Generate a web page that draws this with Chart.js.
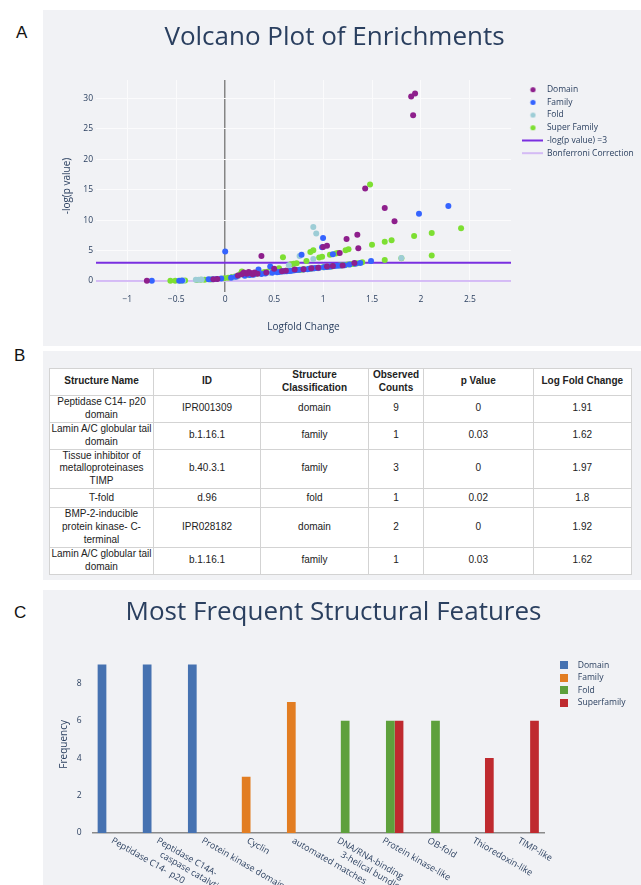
<!DOCTYPE html>
<html><head><meta charset="utf-8">
<script src="https://cdn.jsdelivr.net/npm/chart.js@4.4.1/dist/chart.umd.min.js"></script>
<style>
html,body{margin:0;padding:0;background:#fff;width:641px;height:885px;overflow:hidden;font-family:"Open Sans",sans-serif;}
.panel{position:absolute;left:43px;width:598px;background:#f1f2f5;}
#pA{top:10px;height:336px;}
#pB{top:351px;height:229px;}
#pC{top:590px;height:295px;}
.letter{position:absolute;font-family:"Liberation Sans",Arial,sans-serif;font-size:17px;line-height:17px;color:#111;}
canvas{display:block;}
table{position:absolute;left:6px;top:17px;border-collapse:collapse;background:#fff;font-family:"Liberation Sans",Arial,sans-serif;font-size:10px;color:#222;table-layout:fixed;}
td,th{border:1px solid #d3d3d3;text-align:center;vertical-align:middle;padding:0 1px;line-height:12.8px;overflow:hidden;}
th{font-weight:bold;}
</style></head>
<body>
<div class="letter" style="left:16px;top:24px;">A</div>
<div class="letter" style="left:14px;top:347px;">B</div>
<div class="letter" style="left:14px;top:604px;">C</div>
<div class="panel" id="pA"><canvas id="cA" width="598" height="336"></canvas></div>
<div class="panel" id="pB"><table id="tbl"></table></div>
<div class="panel" id="pC"><canvas id="cC" width="598" height="295"></canvas></div>
<script>
// ---------------- DATA ----------------
const volcanoTitle = 'Volcano Plot of Enrichments';
const volcanoXTitle = 'Logfold Change';
const volcanoYTitle = '-log(p value)';
const domainPts = [[-0.80,0.05],[-0.12,0.3],[-0.08,0.35],[0.13,0.9],[0.17,1.1],[0.19,1.4],[0.22,1.2],[0.24,1.5],[0.26,1.3],[0.28,1.1],[0.30,1.4],[0.33,1.2],[0.37,4.1],[0.42,1.4],[0.50,2.0],[0.58,1.6],[0.62,1.7],[0.71,1.9],[0.80,1.95],[0.88,2.1],[0.95,2.2],[1.00,5.6],[1.04,5.8],[1.04,2.4],[1.10,2.45],[1.17,4.6],[1.20,2.55],[1.24,6.9],[1.32,2.95],[1.35,7.6],[1.36,5.4],[1.43,15.2],[1.63,12.0],[1.73,9.8],[1.90,30.3],[1.92,27.2],[1.94,30.8]];
const familyPts = [[-0.75,0.05],[-0.47,0.05],[-0.44,0.1],[-0.17,0.3],[-0.13,0.3],[-0.09,0.35],[-0.04,0.4],[0.00,4.85],[0.06,0.55],[0.11,0.7],[0.20,0.85],[0.25,1.0],[0.29,1.05],[0.34,1.9],[0.37,1.15],[0.41,1.25],[0.46,2.4],[0.48,1.35],[0.53,1.45],[0.55,1.5],[0.58,1.55],[0.60,1.6],[0.63,1.6],[0.66,1.65],[0.68,1.7],[0.71,1.75],[0.73,1.8],[0.76,1.85],[0.78,4.3],[0.80,1.9],[0.84,1.95],[0.86,2.0],[0.89,2.05],[0.91,2.1],[0.93,2.15],[0.96,2.2],[0.99,5.55],[1.00,7.05],[1.01,2.25],[1.03,2.3],[1.06,2.35],[1.08,2.4],[1.10,4.4],[1.12,2.45],[1.15,2.5],[1.18,2.55],[1.22,2.6],[1.27,2.7],[1.33,2.85],[1.38,2.95],[1.49,3.3],[1.98,11.05],[2.28,12.3]];
const foldPts = [[-0.43,0.05],[-0.30,0.2],[-0.27,0.2],[-0.24,0.25],[0.08,0.6],[0.13,0.75],[0.27,1.0],[0.45,1.35],[0.61,1.55],[0.65,2.6],[0.70,1.75],[0.76,4.1],[0.90,8.85],[0.93,7.8],[0.90,3.6],[0.95,2.1],[1.80,3.8]];
const superFamilyPts = [[-0.56,0.05],[-0.51,0.05],[-0.45,0.05],[-0.41,0.1],[-0.29,0.15],[-0.25,0.2],[-0.21,0.2],[-0.15,0.25],[-0.01,0.45],[0.03,0.55],[0.07,0.65],[0.10,0.75],[0.14,0.95],[0.16,1.25],[0.17,1.55],[0.19,1.15],[0.21,0.95],[0.24,1.05],[0.32,1.2],[0.36,1.3],[0.40,1.5],[0.44,1.55],[0.46,1.45],[0.50,1.6],[0.53,1.85],[0.55,2.1],[0.57,1.6],[0.59,3.9],[0.60,1.65],[0.62,1.7],[0.65,1.7],[0.67,2.75],[0.70,2.85],[0.70,1.75],[0.73,2.9],[0.75,1.8],[0.77,1.85],[0.79,1.9],[0.81,1.95],[0.83,3.3],[0.86,2.0],[0.87,4.75],[0.88,2.05],[0.90,5.05],[0.91,2.1],[0.94,2.15],[0.96,3.85],[0.99,4.0],[1.00,2.25],[1.02,2.3],[1.05,2.35],[1.07,4.3],[1.09,2.4],[1.11,2.45],[1.13,4.5],[1.15,4.6],[1.17,2.55],[1.19,2.6],[1.22,2.65],[1.23,5.05],[1.25,2.7],[1.26,5.2],[1.28,2.75],[1.31,2.8],[1.35,2.9],[1.40,3.1],[1.48,15.85],[1.50,5.95],[1.63,3.45],[1.63,6.45],[1.70,6.7],[1.80,3.75],[1.93,7.4],[2.11,7.9],[2.11,4.2],[2.41,8.65]];
const thresholdY = 3;
const bonferroniY = 0;
const volcanoXRange = [-1.32, 2.92];
const volcanoYRange = [-1.8, 33];

const barTitle = 'Most Frequent Structural Features';
const barYTitle = 'Frequency';
const barCategories = ['Peptidase C14-  p20', ['Peptidase C14A-','caspase catalytic'], 'Protein kinase domain', 'Cyclin', 'automated matches', ['DNA/RNA-binding','3-helical bundle'], 'Protein kinase-like', 'OB-fold', 'Thioredoxin-like', 'TIMP-like'];
const domainFreq      = [9, 9, 9, null, null, null, null, null, null, null];
const familyFreq      = [null, null, null, 3, 7, null, null, null, null, null];
const foldFreq        = [null, null, null, null, null, 6, 6, 6, null, null];
const superfamilyFreq = [null, null, null, null, null, null, 6, null, 4, 6];

const tableHeaders = [['Structure Name'], ['ID'], ['Structure','Classification'], ['Observed','Counts'], ['p Value'], ['Log Fold Change']];
const structureNames = [['Peptidase C14- p20','domain'], ['Lamin A/C globular tail','domain'], ['Tissue inhibitor of','metalloproteinases','TIMP'], ['T-fold'], ['BMP-2-inducible','protein kinase- C-','terminal'], ['Lamin A/C globular tail','domain']];
const structureIds = ['IPR001309','b.1.16.1','b.40.3.1','d.96','IPR028182','b.1.16.1'];
const classifications = ['domain','family','family','fold','domain','family'];
const observedCounts = [9, 1, 3, 1, 2, 1];
const pValues = [0, 0.03, 0, 0.02, 0, 0.03];
const logFoldChanges = [1.91, 1.62, 1.97, 1.8, 1.92, 1.62];

// ---------------- TABLE ----------------
(function(){
  const colW = [104, 107, 108, 55, 109.5, 98.6];
  const rowH = [27.4, 25.6, 39.4, 19.3, 38.3, 27.4];
  const tbl = document.getElementById('tbl');
  let html = '<colgroup>' + colW.map(w => '<col style="width:' + w + 'px">').join('') + '</colgroup>';
  html += '<tr style="height:26px">' + tableHeaders.map(h => '<th>' + h.join('<br>') + '</th>').join('') + '</tr>';
  structureNames.forEach((n, i) => {
    html += '<tr style="height:' + rowH[i] + 'px"><td>' + n.join('<br>') + '</td><td>' + structureIds[i] + '</td><td>' + classifications[i] +
      '</td><td>' + observedCounts[i] + '</td><td>' + pValues[i] + '</td><td>' + logFoldChanges[i] + '</td></tr>';
  });
  tbl.innerHTML = html;
})();

// ---------------- HELPERS ----------------
const FONT = '"Open Sans", sans-serif';
const TXT = '#2a3f5f';
function dotIcon(color, r){const s=Math.ceil(2*r)+1;const c=document.createElement('canvas');c.width=s;c.height=s;const g=c.getContext('2d');g.fillStyle=color;g.beginPath();g.arc(s/2,s/2,r,0,Math.PI*2);g.fill();return c;}
function lineIcon(color, len, lw){const c=document.createElement('canvas');c.width=len;c.height=4;const g=c.getContext('2d');g.strokeStyle=color;g.lineWidth=lw;g.beginPath();g.moveTo(0,2);g.lineTo(len,2);g.stroke();return c;}
function squareIcon(color, s){const c=document.createElement('canvas');c.width=s;c.height=s;const g=c.getContext('2d');g.fillStyle=color;g.fillRect(0,0,s,s);return c;}
function iconLabels(icons){
  return function(chart){
    const items = Chart.defaults.plugins.legend.labels.generateLabels(chart);
    items.forEach(it => { it.pointStyle = icons[it.datasetIndex]; });
    return items;
  };
}
const legendShift = {
  id: 'legendShift',
  afterLayout(chart, args, opts){
    const l = chart.legend; if (!l) return;
    l.left += opts.dx || 0; l.right += opts.dx || 0;
    l.top += opts.dy || 0; l.bottom += opts.dy || 0;
  }
};
const rotatedLabels = {
  id: 'rotatedLabels',
  afterDraw(chart, args, o){
    const sx = chart.scales.x, ctx = chart.ctx;
    ctx.save();
    ctx.font = o.font; ctx.fillStyle = o.color; ctx.textAlign = 'left'; ctx.textBaseline = 'middle';
    chart.data.labels.forEach((lab, i) => {
      const lines = Array.isArray(lab) ? lab : [lab];
      ctx.save();
      ctx.translate(sx.getPixelForValue(i) + o.dx, sx.top + o.dy);
      ctx.rotate(o.angle * Math.PI / 180);
      lines.forEach((t, j) => ctx.fillText(t, j * o.along, j * o.perp));
      ctx.restore();
    });
    ctx.restore();
  }
};
const toXY = arr => arr.map(p => ({x: p[0], y: p[1]}));
const fmtMinus = v => String(v).replace('-', '\u2212');

// ---------------- VOLCANO ----------------
const cDomain = '#8e1f8c', cFamily = '#3564ff', cFold = '#9dcdd6', cSuper = '#7ddf32', cThresh = '#7a2fe0', cBonf = '#caa9f5';
new Chart(document.getElementById('cA'), {
  type: 'scatter',
  data: { datasets: [
    {label: 'Domain', data: toXY(domainPts), backgroundColor: cDomain, borderWidth: 0, pointRadius: 3},
    {label: 'Family', data: toXY(familyPts), backgroundColor: cFamily, borderWidth: 0, pointRadius: 3},
    {label: 'Fold', data: toXY(foldPts), backgroundColor: cFold, borderWidth: 0, pointRadius: 3},
    {label: 'Super Family', data: toXY(superFamilyPts), backgroundColor: cSuper, borderWidth: 0, pointRadius: 3},
    {type: 'line', label: '-log(p value) =3', data: [{x: volcanoXRange[0], y: thresholdY}, {x: volcanoXRange[1], y: thresholdY}], borderColor: cThresh, borderWidth: 2, pointRadius: 0, fill: false},
    {type: 'line', label: 'Bonferroni Correction', data: [{x: volcanoXRange[0], y: bonferroniY}, {x: volcanoXRange[1], y: bonferroniY}], borderColor: cBonf, borderWidth: 1.5, pointRadius: 0, fill: false}
  ]},
  options: {
    responsive: false, animation: false, events: [],
    layout: {padding: {left: 0, right: 15, top: 0, bottom: 0}},
    plugins: {
      title: {display: true, text: volcanoTitle, color: TXT, font: {family: FONT, size: 26, weight: 'normal'}, padding: {top: 12, bottom: 26.8}},
      legend: {position: 'right', align: 'start', fullSize: false, maxWidth: 115,
        labels: {usePointStyle: true, pointStyleWidth: 19.5, padding: 4.2, color: TXT, font: {family: FONT, size: 8.5},
          generateLabels: iconLabels([dotIcon(cDomain,2.6), dotIcon(cFamily,2.6), dotIcon(cFold,2.6), dotIcon(cSuper,2.6), lineIcon(cThresh,21,2), lineIcon(cBonf,21,1.5)])}},
      tooltip: {enabled: false},
      legendShift: {dx: 8, dy: 1.2}
    },
    scales: {
      x: {type: 'linear', min: volcanoXRange[0], max: volcanoXRange[1],
        afterFit(s){ s.height = 54; },
        border: {display: false},
        grid: {drawTicks: false, color: c => (c.tick && c.tick.value === 0) ? '#858585' : '#fbfbfc', lineWidth: c => (c.tick && c.tick.value === 0) ? 1.5 : 1},
        ticks: {stepSize: 0.5, includeBounds: false, padding: 2, color: TXT, font: {family: FONT, size: 8.5}, callback: v => fmtMinus(v)},
        title: {display: true, text: volcanoXTitle, color: TXT, font: {family: FONT, size: 10}, padding: {top: 0, bottom: 13.3}}},
      y: {type: 'linear', min: volcanoYRange[0], max: volcanoYRange[1],
        afterFit(s){ s.width = 53; },
        border: {display: false},
        grid: {drawTicks: false, color: '#fbfbfc'},
        ticks: {stepSize: 5, includeBounds: false, padding: 3, color: TXT, font: {family: FONT, size: 8.5}},
        title: {display: true, text: volcanoYTitle, color: TXT, font: {family: FONT, size: 10}, padding: {top: 17.7, bottom: 0}}}
    }
  },
  plugins: [legendShift]
});

// ---------------- BAR ----------------
const bDomain = '#4672b1', bFamily = '#e27d22', bFold = '#5ea03c', bSuper = '#bf2a2f';
new Chart(document.getElementById('cC'), {
  type: 'bar',
  data: { labels: barCategories, datasets: [
    {label: 'Domain', data: domainFreq, backgroundColor: bDomain},
    {label: 'Family', data: familyFreq, backgroundColor: bFamily},
    {label: 'Fold', data: foldFreq, backgroundColor: bFold},
    {label: 'Superfamily', data: superfamilyFreq, backgroundColor: bSuper}
  ]},
  options: {
    responsive: false, animation: false, events: [],
    datasets: {bar: {categoryPercentage: 0.772, barPercentage: 1}},
    layout: {padding: {left: 0, right: 17, top: 0, bottom: 0}},
    plugins: {
      title: {display: true, text: barTitle, color: TXT, font: {family: FONT, size: 26, weight: 'normal'}, padding: {top: 7, bottom: 27.5}},
      legend: {position: 'right', align: 'start', fullSize: false, maxWidth: 80,
        labels: {usePointStyle: true, pointStyleWidth: 18.8, padding: 4, color: TXT, font: {family: FONT, size: 8.6},
          generateLabels: iconLabels([squareIcon(bDomain,8), squareIcon(bFamily,8), squareIcon(bFold,8), squareIcon(bSuper,8)])}},
      tooltip: {enabled: false},
      legendShift: {dx: 6.6, dy: 1.2},
      rotatedLabels: {font: '9px ' + FONT, color: TXT, angle: 30, dx: -3, dy: 7, along: 10, perp: 10.5}
    },
    scales: {
      x: {afterFit(s){ s.height = 52; }, grid: {display: false}, border: {display: true, color: '#8a8a8a', width: 1.5}, ticks: {display: false}},
      y: {min: 0, max: 9.47, afterFit(s){ s.width = 49.5; }, border: {display: false}, grid: {display: false},
        ticks: {stepSize: 2, includeBounds: false, padding: 3, color: TXT, font: {family: FONT, size: 8.5}},
        title: {display: true, text: barYTitle, color: TXT, font: {family: FONT, size: 10}, padding: {top: 15, bottom: 0}}}
    }
  },
  plugins: [legendShift, rotatedLabels]
});
</script>
</body></html>
